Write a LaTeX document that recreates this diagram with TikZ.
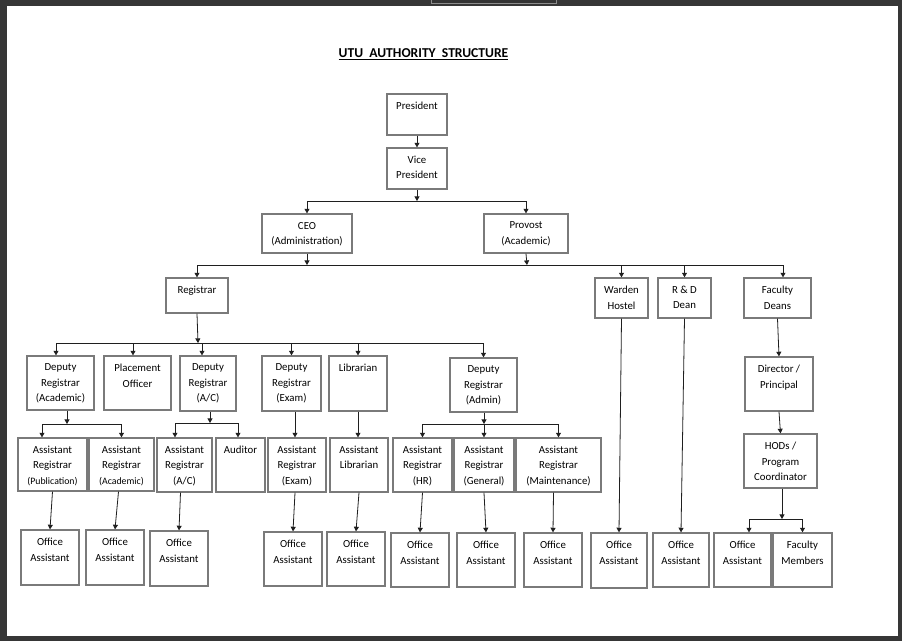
\documentclass[tikz,border=0pt]{standalone}
\usepackage{fontspec}
\setmainfont{Carlito}
\usetikzlibrary{arrows.meta}

\begin{document}
\begin{tikzpicture}[
  x=1pt,
  y=-1pt,
  line cap=butt,
  line join=miter,
  post/.style 2 args={draw=black!52, line width=1.3, fill=white, inner sep=0,
    minimum width=#1, minimum height=#2},
  boxtext/.style={anchor=north, align=center, inner sep=0, yshift=-8.5,
    font=\fontsize{10.8}{15.5}\selectfont},
  line/.style={draw=black!88, line width=0.8},
  link/.style={line, -{Triangle[length=4.6,width=5]}},
  title/.style={font=\bfseries\fontsize{13.6}{15}\selectfont, inner sep=0}
]
\path[use as bounding box] (0,0) rectangle (902,641);

% Viewer frame and page
\fill[black!79] (0,0) rectangle (902,641);
\fill[white] (7,6) rectangle (897.5,635.5);
\draw[black!45, fill=black!80, line width=0.6] (431.5,-1) rectangle (556.5,3.3);

% Title
\node[title] (head) at (423.5,54) {\underline{UTU\ \ AUTHORITY\ \ STRUCTURE}};

% Top levels
\node[post={60}{41}, label={[boxtext]north:President}] (pres) at (417,114.5) {};
\node[post={60}{41}, label={[boxtext]north:Vice\\President}] (vp) at (417,168.5) {};
\node[post={90}{39}, label={[boxtext]north:CEO\\(Administration)}] (ceo) at (307,233.5) {};
\node[post={84}{39}, label={[boxtext]north:Provost\\(Academic)}] (prov) at (526,233.5) {};

% Third level
\node[post={62}{35}, label={[boxtext]north:Registrar}] (reg) at (197,295.5) {};
\node[post={53}{40}, label={[boxtext]north:Warden\\Hostel}] (ward) at (621.5,298) {};
\node[post={53}{40}, label={[boxtext]north:R \& D\\Dean}] (rnd) at (684.5,298) {};
\node[post={67}{40}, label={[boxtext]north:Faculty\\Deans}] (deans) at (777.5,298) {};

% Fourth level
\node[post={67}{54}, label={[boxtext]north:Deputy\\Registrar\\(Academic)}] (dracad) at (60.5,383) {};
\node[post={67}{54}, label={[boxtext]north:Placement\\Officer}] (place) at (137.5,383) {};
\node[post={56}{55}, label={[boxtext]north:Deputy\\Registrar\\(A/C)}] (drac) at (208,383.5) {};
\node[post={59}{55}, label={[boxtext]north:Deputy\\Registrar\\(Exam)}] (drexam) at (291.5,383.5) {};
\node[post={58}{55}, label={[boxtext]north:Librarian}] (lib) at (358,383.5) {};
\node[post={67}{54}, label={[boxtext]north:Deputy\\Registrar\\(Admin)}] (dradmin) at (483.5,385) {};
\node[post={68}{54}, label={[boxtext]north:Director /\\Principal}] (dir) at (779,384) {};

% Fifth level
\node[post={69}{53}, label={[boxtext]north:Assistant\\Registrar\\{\fontsize{9.8}{15.5}\selectfont(Publication)}}] (arpub) at (52.5,464.5) {};
\node[post={65}{53}, label={[boxtext]north:Assistant\\Registrar\\{\fontsize{9.8}{15.5}\selectfont(Academic)}}] (aracad) at (121.5,464.5) {};
\node[post={55}{54}, label={[boxtext]north:Assistant\\Registrar\\(A/C)}] (arac) at (184.5,465) {};
\node[post={49}{54}, label={[boxtext]north:Auditor}] (aud) at (240.5,465) {};
\node[post={58}{54}, label={[boxtext]north:Assistant\\Registrar\\(Exam)}] (arexam) at (297,465) {};
\node[post={58}{54}, label={[boxtext]north:Assistant\\Librarian}] (alib) at (359,465) {};
\node[post={59}{54}, label={[boxtext]north:Assistant\\Registrar\\(HR)}] (arhr) at (422.5,465) {};
\node[post={60}{54}, label={[boxtext]north:Assistant\\Registrar\\(General)}] (argen) at (484,465) {};
\node[post={85}{54}, label={[boxtext]north:Assistant\\Registrar\\(Maintenance)}] (armaint) at (558.5,465) {};
\node[post={73}{54}, label={[boxtext]north:HODs /\\Program\\Coordinator}] (hod) at (780.5,461) {};

% Office staff
\node[post={58}{55}, label={[boxtext]north:Office\\Assistant}] (oa1) at (50,557.5) {};
\node[post={58}{55}, label={[boxtext]north:Office\\Assistant}] (oa2) at (115,557.5) {};
\node[post={58}{55}, label={[boxtext]north:Office\\Assistant}] (oa3) at (179,558.5) {};
\node[post={58}{54}, label={[boxtext]north:Office\\Assistant}] (oa4) at (293,559) {};
\node[post={58}{54}, label={[boxtext]north:Office\\Assistant}] (oa5) at (356,559) {};
\node[post={58}{54}, label={[boxtext]north:Office\\Assistant}] (oa6) at (420,560) {};
\node[post={58}{54}, label={[boxtext]north:Office\\Assistant}] (oa7) at (486,560) {};
\node[post={58}{54}, label={[boxtext]north:Office\\Assistant}] (oa8) at (553,560) {};
\node[post={56}{55}, label={[boxtext]north:Office\\Assistant}] (oa9) at (619,560.5) {};
\node[post={56}{54}, label={[boxtext]north:Office\\Assistant}] (oa10) at (681,560) {};
\node[post={57}{54}, label={[boxtext]north:Office\\Assistant}] (oa11) at (742.5,560) {};
\node[post={59}{54}, label={[boxtext]north:Faculty\\Members}] (fac) at (802.5,560) {};

% Bus points
\coordinate (busvp) at (417,201);
\coordinate (bustop) at (527,265);
\coordinate (busreg) at (198,343);
\coordinate (busdra) at (67,424);
\coordinate (busdrc) at (210,423);
\coordinate (busdrm) at (484,424);
\coordinate (bushod) at (782,519);

% Connections, upper part
\draw[link] (pres) -- (vp);
\draw[link] (vp) -- (busvp);
\draw[line] (ceo.north |- busvp) -- (prov.north |- busvp);
\draw[link] (ceo.north |- busvp) -- (ceo.north);
\draw[link] (prov.north |- busvp) -- (prov.north);

\draw[link] (ceo) -- (ceo |- bustop);
\draw[link] (prov.south) -- (bustop);
\draw[line] (reg.north |- bustop) -- ([xshift=5.5]deans.north |- bustop);
\draw[link] (reg.north |- bustop) -- (reg.north);
\draw[link] (ward.north |- bustop) -- (ward.north);
\draw[link] (rnd.north |- bustop) -- (rnd.north);
\draw[link] ([xshift=5.5]deans.north |- bustop) -- ([xshift=5.5]deans.north);

% Registrar branch
\draw[link] (reg.south) -- (busreg);
\draw[line] ([xshift=-4.5]dracad.north |- busreg) -- (dradmin.north |- busreg);
\draw[link] ([xshift=-4.5]dracad.north |- busreg) -- ([xshift=-4.5]dracad.north);
\draw[link] ([xshift=-4.5]place.north |- busreg) -- ([xshift=-4.5]place.north);
\draw[link] ([xshift=-6]drac.north |- busreg) -- ([xshift=-6]drac.north);
\draw[link] (drexam.north |- busreg) -- (drexam.north);
\draw[link] (lib.north |- busreg) -- (lib.north);
\draw[link] (dradmin.north |- busreg) -- (dradmin.north);

% Deputy registrars to assistants
\draw[link] (dracad.south -| busdra) -- (busdra);
\draw[line] ([xshift=-10.5]arpub.north |- busdra) -- (aracad.north |- busdra);
\draw[link] ([xshift=-10.5]arpub.north |- busdra) -- ([xshift=-10.5]arpub.north);
\draw[link] (aracad.north |- busdra) -- (aracad.north);

\draw[link] (drac.south -| busdrc) -- (busdrc);
\draw[line] ([xshift=-9.5]arac.north |- busdrc) -- ([xshift=-2.5]aud.north |- busdrc);
\draw[link] ([xshift=-9.5]arac.north |- busdrc) -- ([xshift=-9.5]arac.north);
\draw[link] ([xshift=-2.5]aud.north |- busdrc) -- ([xshift=-2.5]aud.north);

\draw[link] ([xshift=-2]drexam.south -| arexam.north) -- ([xshift=-2]arexam.north);
\draw[link] (lib.south) -- (lib.south |- alib.north);

\draw[link] (dradmin.south -| busdrm) -- (busdrm);
\draw[line] (arhr.north |- busdrm) -- (armaint.north |- busdrm);
\draw[link] (arhr.north |- busdrm) -- (arhr.north);
\draw[link] (argen.north |- busdrm) -- (argen.north);
\draw[link] (armaint.north |- busdrm) -- (armaint.north);

% Assistants to office staff
\draw[link] (arpub.south) -- (oa1.north);
\draw[link] ([xshift=-3]aracad.south) -- (oa2.north);
\draw[link] ([xshift=-4]arac.south) -- (oa3.north);
\draw[link] ([xshift=-2]arexam.south) -- (oa4.north);
\draw[link] (alib.south) -- (oa5.north);
\draw[link] (arhr.south) -- (oa6.north);
\draw[link] (argen.south) -- (oa7.north);
\draw[link] ([xshift=-5]armaint.south) -- (oa8.north);
\draw[link] (ward.south) -- (oa9.north);
\draw[link] (rnd.south) -- (oa10.north);

% Faculty branch
\draw[link] (deans.south) -- (dir.north);
\draw[link] (dir.south) -- (hod.north);
\draw[link] (hod.south -| bushod) -- (bushod);
\draw[line] ([xshift=6.5]oa11.north |- bushod) -- (fac.north |- bushod);
\draw[link] ([xshift=6.5]oa11.north |- bushod) -- ([xshift=6.5]oa11.north);
\draw[link] (fac.north |- bushod) -- (fac.north);

\end{tikzpicture}
\end{document}
